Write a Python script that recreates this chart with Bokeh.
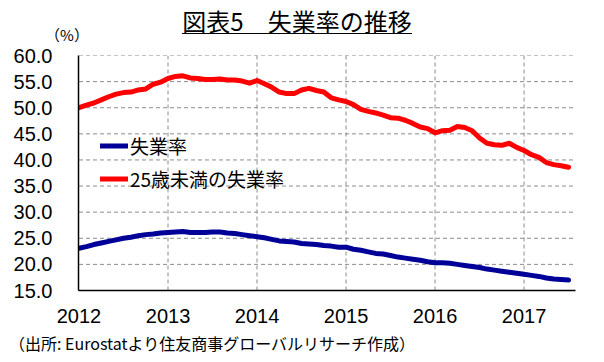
from bokeh.plotting import figure
from bokeh.layouts import column
from bokeh.models import (Range1d, FixedTicker, PrintfTickFormatter, Legend,
                          LegendItem, ColumnDataSource, Div)
from bokeh.embed import file_html
from bokeh.resources import INLINE

# ---------------- data ----------------
years = [2012, 2013, 2014, 2015, 2016, 2017]
months_per_year = [12, 12, 12, 12, 12, 7]
month_labels = [f"{y}-{m:02d}" for y, n in zip(years, months_per_year) for m in range(1, n + 1)]

unemployment = [
    23.1, 23.4, 23.8, 24.1, 24.4, 24.7, 25.0, 25.2, 25.5, 25.7, 25.8, 26.0,
    26.1, 26.2, 26.3, 26.1, 26.1, 26.1, 26.2, 26.2, 26.0, 25.9, 25.7, 25.5,
    25.3, 25.1, 24.8, 24.5, 24.4, 24.3, 24.0, 23.9, 23.8, 23.6, 23.5, 23.3,
    23.3, 22.9, 22.7, 22.4, 22.1, 22.0, 21.7, 21.4, 21.2, 21.0, 20.8, 20.5,
    20.3, 20.3, 20.2, 20.0, 19.8, 19.6, 19.4, 19.1, 18.9, 18.7, 18.5, 18.3,
    18.1, 17.9, 17.7, 17.4, 17.2, 17.1, 17.0,
]
youth_unemployment = [
    50.0, 50.5, 50.9, 51.5, 52.1, 52.6, 52.9, 53.0, 53.4, 53.6, 54.5, 54.9,
    55.6, 56.0, 56.1, 55.7, 55.6, 55.4, 55.4, 55.5, 55.3, 55.3, 55.1, 54.7,
    55.2, 54.6, 53.9, 53.0, 52.7, 52.7, 53.4, 53.7, 53.3, 53.0, 51.9, 51.5,
    51.2, 50.6, 49.7, 49.3, 49.0, 48.6, 48.1, 48.0, 47.6, 47.0, 46.3, 46.0,
    45.2, 45.6, 45.7, 46.4, 46.2, 45.6, 44.2, 43.2, 42.9, 42.8, 43.2, 42.4,
    41.8, 41.0, 40.5, 39.5, 39.1, 38.9, 38.6,
]
series_names = ["失業率", "25歳未満の失業率"]
y_ticks = [15, 20, 25, 30, 35, 40, 45, 50, 55, 60]
x_ticks = years

title_text = "図表5\u3000失業率の推移"
unit_text = "（%）"
source_text = "（出所: Eurostatより住友商事グローバルリサーチ作成）"

jp_font = "Noto Sans CJK JP"
num_font = "Liberation Sans"
W = 604
FONT_CSS = "font-family:'Noto Sans CJK JP',sans-serif;color:#000;white-space:nowrap;"

# ---------------- header: title, underline, unit ----------------
head_html = (
    f'<div style="position:relative;width:{W}px;height:45px;{FONT_CSS}">'
    f'<div style="position:absolute;left:0;top:8.6px;width:594px;text-align:center;'
    f'font-size:24px;line-height:24px;">{title_text}</div>'
    '<div style="position:absolute;left:182px;top:32.5px;width:230px;height:1.5px;'
    'background:#000;"></div>'
    f'<div style="position:absolute;left:37px;top:26.6px;width:60px;text-align:center;'
    f'font-size:15px;line-height:15px;">{unit_text}</div>'
    '</div>'
)
head = Div(text=head_html, width=W, height=45, margin=(0, 0, 0, 0))

# ---------------- main chart ----------------
xpos = [int(s[:4]) + (int(s[5:]) - 1) / 12 for s in month_labels]
src = ColumnDataSource(dict(x=xpos, total=unemployment, youth=youth_unemployment))
x_end = 2012 + len(month_labels) / 12
px_x = (x_end - 2012) / 497          # one pixel in x data units
px_y = (60 - 15) / 235               # one pixel in y data units
half_px = px_x / 2                   # keeps 1px vertical grid lines crisp

p = figure(width=W, height=287,
           x_range=Range1d(2012 - half_px, x_end - half_px), y_range=Range1d(15, 60),
           output_backend="svg", toolbar_location=None,
           min_border_left=78, min_border_right=29, min_border_top=10, min_border_bottom=42)
p.outline_line_color = None
p.background_fill_color = "white"
p.border_fill_color = "white"
p.xgrid.visible = False
p.ygrid.visible = False

# dashed grid drawn from the tick lists; each line gets a sub-pixel end hook so
# that its path never has a zero-area bounding box
grid_style = dict(line_color="#8c8c8c", line_width=1, line_dash="4 3")
x_grid_end = x_end - 2 * half_px
for xt in x_ticks[1:]:
    p.line(x=[xt, xt, xt + 0.3 * px_x], y=[y_ticks[0], y_ticks[-1], y_ticks[-1]], **grid_style)
for yt in y_ticks[1:]:
    p.line(x=[x_ticks[0], x_grid_end, x_grid_end], y=[yt, yt, yt + 0.3 * px_y], **grid_style)

r_total = p.line("x", "total", source=src, line_color="#000099", line_width=5,
                 line_cap="round", line_join="round")
r_youth = p.line("x", "youth", source=src, line_color="#ff0000", line_width=5,
                 line_cap="round", line_join="round")

p.xaxis.ticker = FixedTicker(ticks=x_ticks)
p.yaxis.ticker = FixedTicker(ticks=y_ticks)
p.yaxis.formatter = PrintfTickFormatter(format="%.1f")
for ax in (p.xaxis, p.yaxis):
    ax.major_label_text_font = num_font
    ax.major_label_text_font_size = "20px"
    ax.major_label_text_color = "black"
    ax.major_tick_in = 0
    ax.major_tick_out = 0
    ax.minor_tick_in = 0
    ax.minor_tick_out = 0
    ax.axis_line_color = "black"
    ax.axis_line_width = 1.5
p.yaxis.major_label_standoff = 26
p.xaxis.major_label_standoff = 18

legend = Legend(items=[LegendItem(label=series_names[0], renderers=[r_total]),
                       LegendItem(label=series_names[1], renderers=[r_youth])],
                location=(22, 98), orientation="vertical",
                background_fill_alpha=0, border_line_alpha=0,
                label_text_font=jp_font, label_text_font_size="19px",
                label_text_color="black",
                glyph_width=28, glyph_height=25, label_height=25,
                label_standoff=2, spacing=6, padding=0, margin=0)
p.add_layout(legend, "center")

# ---------------- footer: source ----------------
foot_html = (
    f'<div style="position:relative;width:{W}px;height:30px;{FONT_CSS}">'
    f'<div style="position:absolute;left:9px;top:3.4px;font-size:16px;line-height:16px;">'
    f'{source_text}</div></div>'
)
foot = Div(text=foot_html, width=W, height=30, margin=(0, 0, 0, 0))

layout = column(head, p, foot, spacing=0)
open("out.html", "w").write(file_html(layout, INLINE))
